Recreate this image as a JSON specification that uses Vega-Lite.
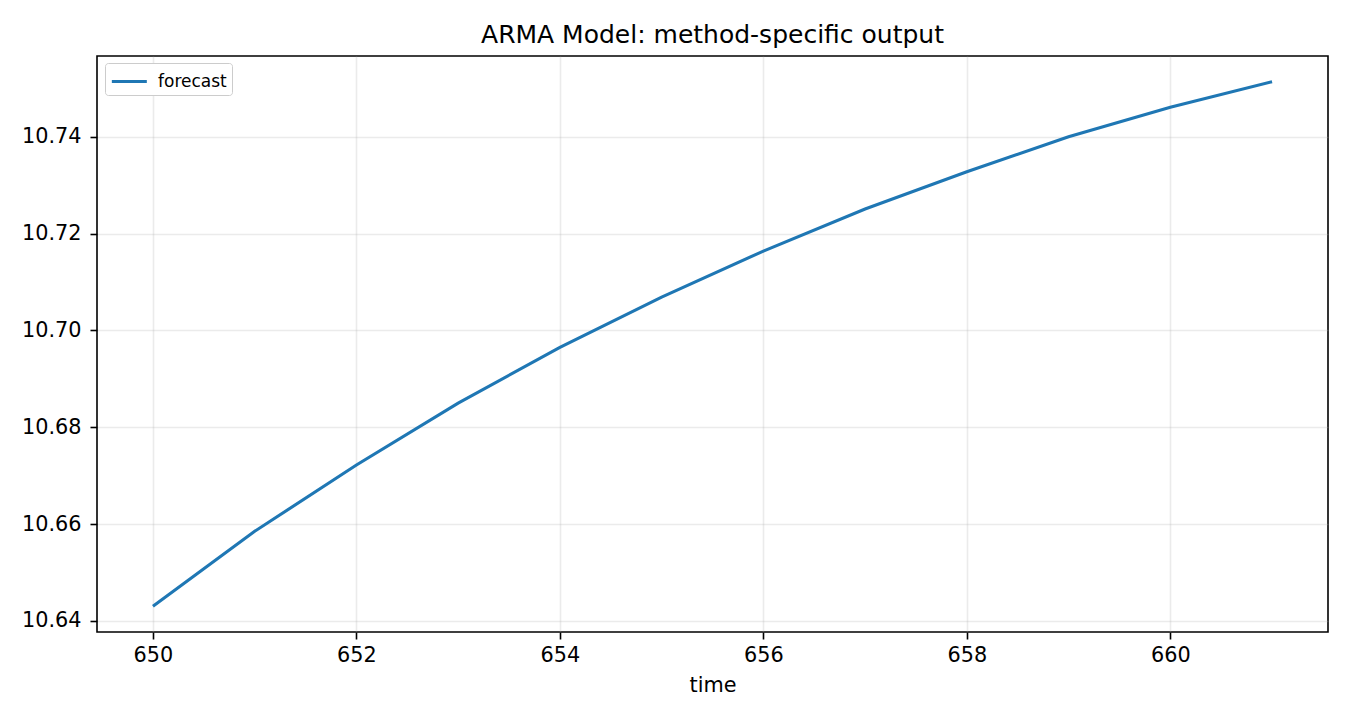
{
  "$schema": "https://vega.github.io/schema/vega-lite/v6.json",
  "autosize": {"type": "none"},
  "padding": {"left": 97, "top": 56, "right": 22, "bottom": 88},
  "width": 1231,
  "height": 576,
  "background": "white",
  "title": {
    "text": "ARMA Model: method-specific output",
    "font": "DejaVu Sans",
    "fontSize": 25,
    "fontWeight": "normal",
    "color": "black",
    "anchor": "middle",
    "baseline": "alphabetic",
    "offset": 13,
    "dy": 25
  },
  "data": {
    "values": [
      {"time": 650, "value": 10.6430, "series": "forecast"},
      {"time": 651, "value": 10.6585, "series": "forecast"},
      {"time": 652, "value": 10.6722, "series": "forecast"},
      {"time": 653, "value": 10.6850, "series": "forecast"},
      {"time": 654, "value": 10.6965, "series": "forecast"},
      {"time": 655, "value": 10.7069, "series": "forecast"},
      {"time": 656, "value": 10.7164, "series": "forecast"},
      {"time": 657, "value": 10.7251, "series": "forecast"},
      {"time": 658, "value": 10.7328, "series": "forecast"},
      {"time": 659, "value": 10.7400, "series": "forecast"},
      {"time": 660, "value": 10.7461, "series": "forecast"},
      {"time": 661, "value": 10.7514, "series": "forecast"}
    ]
  },
  "mark": {"type": "line", "strokeWidth": 3.1},
  "encoding": {
    "x": {
      "field": "time",
      "type": "quantitative",
      "title": "time",
      "scale": {"domain": [649.45, 661.55], "nice": false, "zero": false},
      "axis": {
        "values": [650, 652, 654, 656, 658, 660],
        "format": "d",
        "labelPadding": 6,
        "titlePadding": 11
      }
    },
    "y": {
      "field": "value",
      "type": "quantitative",
      "title": null,
      "scale": {"domain": [10.6377, 10.7567], "nice": false, "zero": false},
      "axis": {
        "values": [10.64, 10.66, 10.68, 10.70, 10.72, 10.74],
        "format": ".2f",
        "labelPadding": 9
      }
    },
    "color": {
      "field": "series",
      "type": "nominal",
      "scale": {"range": ["#1f77b4"]},
      "legend": {
        "title": null,
        "orient": "none",
        "legendX": 8,
        "legendY": 7,
        "symbolType": "M-1,0H2",
        "symbolSize": 544,
        "symbolStrokeWidth": 3,
        "labelFontSize": 17,
        "labelFont": "DejaVu Sans",
        "labelColor": "black",
        "labelOffset": 21,
        "padding": 5,
        "strokeColor": "#cccccc",
        "fillColor": "white",
        "cornerRadius": 3
      }
    }
  },
  "config": {
    "font": "DejaVu Sans",
    "view": {"stroke": "black", "strokeWidth": 1.6},
    "axis": {
      "labelFont": "DejaVu Sans",
      "labelFontSize": 20.8,
      "labelColor": "black",
      "titleFont": "DejaVu Sans",
      "titleFontSize": 20.8,
      "titleFontWeight": "normal",
      "titleColor": "black",
      "tickColor": "black",
      "tickSize": 7,
      "tickWidth": 1.6,
      "domain": false,
      "gridColor": "#b0b0b0",
      "gridOpacity": 0.26,
      "gridWidth": 1.6
    }
  }
}
